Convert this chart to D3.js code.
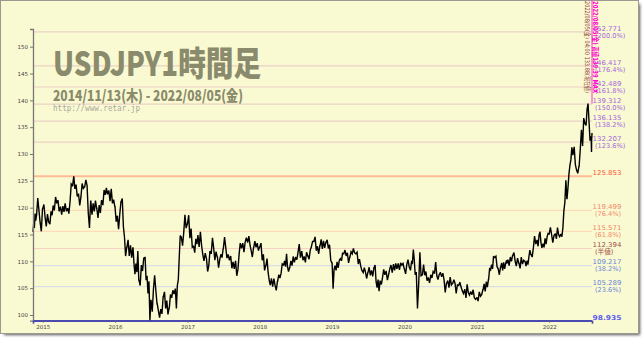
<!DOCTYPE html>
<html>
<head>
<meta charset="utf-8">
<script src="https://cdn.jsdelivr.net/npm/d3@7"></script>
<style>
  body { margin: 0; background: #fff; }
  svg { display: block; }
</style>
</head>
<body>
<div id="chart"></div>
<script>
// one row per month, Nov 2014 .. Aug 2022 (prices in the order they were touched)
var firstDay = "2014-11-13";
var lastDay = "2022-08-05";
var pricePath = [
    // 2014
    [115.5, 117.0, 116.2, 118.9, 117.6, 118.6],
    [118.6, 121.8, 119.5, 117.2, 115.6, 119.9],
    // 2015
    [119.8, 120.6, 118.2, 116.5, 118.8, 117.3],
    [117.3, 116.9, 119.3, 118.6, 120.4, 119.6],
    [119.6, 122.0, 120.8, 121.4, 119.3, 120.1],
    [120.1, 118.7, 120.3, 119.2, 120.8, 119.4],
    [119.4, 119.9, 118.9, 121.1, 124.4, 124.1],
    [124.1, 125.85, 123.5, 124.3, 122.1, 122.5],
    [122.5, 120.4, 122.0, 124.5, 123.6, 123.9],
    [123.9, 125.2, 124.1, 119.0, 116.2, 121.2],
    [121.2, 118.7, 120.8, 119.3, 121.3, 119.9],
    [119.9, 118.1, 120.5, 119.0, 121.4, 120.6],
    [120.6, 123.3, 122.4, 123.7, 122.5, 123.1],
    [123.1, 121.2, 123.5, 120.8, 121.5, 120.2],
    // 2016
    [120.2, 117.4, 118.5, 115.98, 118.8, 121.1],
    [121.1, 121.7, 116.5, 114.5, 110.98, 112.6],
    [112.6, 114.0, 111.0, 113.0, 110.7, 112.5],
    [112.5, 109.5, 107.6, 109.6, 108.0, 111.9, 106.5],
    [106.5, 105.5, 109.3, 108.2, 110.6, 110.7],
    [110.7, 106.5, 107.3, 104.0, 106.3, 99.0, 102.7],
    [102.7, 100.6, 104.8, 107.4, 104.6, 102.1],
    [102.1, 100.8, 99.5, 101.1, 100.2, 103.4],
    [103.4, 104.3, 101.2, 102.7, 100.1, 101.3],
    [101.3, 103.8, 103.2, 104.6, 103.9, 104.8],
    [104.8, 101.2, 105.5, 106.6, 110.8, 114.8, 114.5],
    [114.5, 112.9, 115.4, 118.66, 116.2, 117.0],
    // 2017
    [117.0, 118.6, 114.3, 116.1, 112.6, 112.8],
    [112.8, 111.6, 114.2, 113.2, 114.9, 112.8],
    [112.8, 115.5, 113.0, 111.3, 110.1, 111.4],
    [111.4, 110.5, 108.1, 109.2, 111.9, 111.5],
    [111.5, 114.37, 112.5, 110.2, 111.8, 110.8],
    [110.8, 108.8, 110.3, 111.3, 110.7, 112.4],
    [112.4, 114.5, 112.6, 110.6, 111.3, 110.3],
    [110.3, 111.0, 108.7, 109.9, 108.6, 110.0],
    [110.0, 107.3, 108.5, 111.3, 113.4, 112.5],
    [112.5, 113.4, 111.7, 113.6, 114.4, 113.6],
    [113.6, 114.7, 113.0, 112.0, 110.8, 112.5],
    [112.5, 113.75, 112.6, 113.4, 112.0, 112.7],
    // 2018
    [112.7, 113.4, 110.2, 111.3, 108.3, 109.2],
    [109.2, 110.5, 108.0, 106.5, 105.55, 106.7],
    [106.7, 105.3, 106.8, 105.5, 104.6, 106.3],
    [106.3, 107.5, 106.9, 107.8, 109.5, 109.3],
    [109.3, 110.1, 109.0, 111.4, 108.9, 108.1, 108.8],
    [108.8, 110.1, 109.2, 110.9, 109.8, 110.7],
    [110.7, 110.3, 111.7, 113.2, 110.7, 111.8],
    [111.8, 110.2, 110.9, 109.8, 111.7, 111.0],
    [111.0, 110.4, 112.1, 112.7, 113.7, 113.7],
    [113.7, 114.55, 112.0, 112.8, 111.4, 112.9],
    [112.9, 114.1, 112.3, 113.8, 112.5, 113.5],
    [113.5, 114.0, 112.4, 113.1, 110.2, 109.7],
    // 2019
    [109.7, 104.9, 108.5, 109.2, 108.3, 109.9, 108.9],
    [108.9, 110.2, 110.5, 110.1, 111.5, 111.4],
    [111.4, 112.1, 111.0, 111.6, 109.7, 110.8],
    [110.8, 111.8, 111.4, 112.4, 111.6, 111.4],
    [111.4, 111.7, 109.5, 110.4, 109.2, 108.3],
    [108.3, 107.9, 108.8, 108.0, 106.8, 107.9],
    [107.9, 108.9, 107.4, 108.3, 107.2, 108.8],
    [108.8, 109.3, 106.2, 105.1, 106.6, 104.45, 106.3],
    [106.3, 105.7, 107.0, 108.5, 107.5, 108.1],
    [108.1, 106.5, 107.5, 108.6, 109.3, 108.0],
    [108.0, 109.5, 108.3, 109.6, 108.6, 109.5],
    [109.5, 108.4, 109.7, 109.3, 109.6, 108.6],
    // 2020
    [108.6, 107.65, 109.4, 110.3, 109.0, 108.4],
    [108.4, 109.9, 109.7, 112.2, 110.3, 107.5, 107.9],
    [107.9, 101.2, 105.8, 111.7, 107.3, 107.5],
    [107.5, 109.4, 107.4, 108.1, 106.4, 106.9],
    [106.9, 105.99, 107.5, 106.9, 108.1, 107.8],
    [107.8, 109.85, 107.3, 106.6, 107.5, 107.9],
    [107.9, 107.1, 107.8, 106.6, 104.2, 105.9],
    [105.9, 106.4, 105.1, 107.05, 105.6, 105.9],
    [105.9, 106.55, 105.9, 104.0, 105.6, 105.5],
    [105.5, 106.1, 105.2, 104.5, 104.0, 104.7],
    [104.7, 103.2, 105.7, 104.2, 103.7, 104.3],
    [104.3, 103.8, 104.7, 103.2, 102.9, 103.2],
    // 2021
    [103.2, 102.6, 104.3, 103.5, 103.8, 104.7],
    [104.7, 105.8, 104.4, 106.2, 105.2, 106.6],
    [106.6, 108.6, 108.4, 109.4, 108.6, 110.97, 110.7],
    [110.7, 110.96, 109.0, 108.6, 107.5, 108.9],
    [108.9, 109.7, 108.3, 109.8, 108.6, 109.6, 110.2],
    [109.6, 110.3, 109.2, 110.8, 110.0, 111.1],
    [111.1, 111.65, 110.0, 109.1, 110.6, 109.7],
    [109.7, 108.7, 110.8, 109.5, 110.2, 110.0],
    [110.0, 109.1, 110.1, 109.4, 110.8, 112.1, 111.3],
    [111.3, 110.8, 112.5, 114.7, 113.2, 113.9],
    [113.9, 112.8, 114.9, 115.5, 113.5, 112.5, 113.2],
    [113.2, 112.6, 114.3, 113.2, 114.5, 115.2, 115.1],
    // 2022
    [115.1, 116.35, 115.0, 113.5, 114.8, 115.1],
    [115.1, 114.2, 116.3, 115.0, 114.6, 115.0],
    [115.0, 114.6, 116.2, 119.4, 121.0, 125.1, 121.7],
    [121.7, 123.8, 126.3, 127.9, 128.9, 131.25, 129.9],
    [129.9, 131.35, 128.0, 127.0, 126.4, 127.7],
    [127.7, 130.9, 134.5, 131.5, 136.7, 135.7],
    [135.7, 135.3, 138.3, 139.39, 136.0, 132.5, 133.2],
    [133.2, 131.6, 130.4, 133.3, 132.9, 133.9]
];

var fibValues = [152.771, 146.417, 142.489, 139.312, 136.135, 132.207, 125.853,
                 119.499, 115.571, 112.394, 109.217, 105.289, 98.935];
var fibLabels = ["(200.0%)", "(176.4%)", "(161.8%)", "(150.0%)", "(138.2%)", "(123.6%)", "",
                 "(76.4%)", "(61.8%)", "(半値)", "(38.2%)", "(23.6%)", ""];
var fibGroups = ["up", "up", "up", "up", "up", "up", "high",
                 "ret", "ret", "half", "low", "low", "bottom"];

var yTicks = [100, 105, 110, 115, 120, 125, 130, 135, 140, 145, 150];
var xTicks = ["2015", "2016", "2017", "2018", "2019", "2020", "2021", "2022"];

var titleText = "USDJPY1時間足";
var periodText = "2014/11/13(木) - 2022/08/05(金)";
var urlText = "http://www.retar.jp";

var lineColor = { up: "#ebd0c6", high: "#ffbb96", ret: "#fddcba", half: "#f6d0c4", low: "#dadde6", bottom: "#4a4ab0" };
var textColor = { up: "#a466dc", high: "#ff5533", ret: "#f3896a", half: "#a0504a", low: "#6a88d8", bottom: "#5a5af0" };

var W = 644, H = 339;
var plotL = 33, plotR = 592, plotT = 29, plotB = 320.7;

var parse = d3.timeParse("%Y-%m-%d");
var start = parse(firstDay), end = parse(lastDay);

// spread each month's prices across the days that month covers
var series = [];
pricePath.forEach(function (vals, i) {
    var m0 = d3.timeMonth.offset(d3.timeMonth.floor(start), i);
    var m1 = d3.timeMonth.offset(m0, 1);
    var a = i == 0 ? start : m0;
    var b = i == pricePath.length - 1 ? end : m1;
    vals.forEach(function (v, j) {
        var t = vals.length > 1 ? j / (vals.length - 1) : 0;
        series.push({ date: new Date(+a + (+b - +a) * t * 0.97), value: v });
    });
});

var x = d3.scaleTime().domain([start, end]).range([plotL, plotR]);
var y = d3.scaleLinear().domain([98.935, 153.3]).range([plotB, plotT]);

var svg = d3.select("#chart").append("svg")
    .attr("width", W).attr("height", H);

var defs = svg.append("defs");
defs.append("filter").attr("id", "blur")
    .append("feGaussianBlur").attr("stdDeviation", 1.6);

// frame + shadow
svg.append("rect").attr("x", 4).attr("y", 4).attr("width", 636).attr("height", 331)
    .attr("fill", "#555").attr("filter", "url(#blur)");
svg.append("rect").attr("x", 0.5).attr("y", 0.5).attr("width", 638).attr("height", 333)
    .attr("fill", "#fafad2").attr("stroke", "#9a9a90").attr("stroke-width", 1);

// fibonacci levels
svg.append("g").selectAll("line")
    .data(fibValues)
    .enter().append("line")
    .attr("x1", plotL).attr("x2", plotR)
    .attr("y1", function (d) { return y(d); })
    .attr("y2", function (d) { return y(d); })
    .attr("stroke", function (d, i) { return lineColor[fibGroups[i]]; })
    .attr("stroke-width", function (d, i) {
        var g = fibGroups[i];
        return g == "high" ? 2 : (g == "bottom" ? 1.6 : 1.2);
    });

// watermark title
var txt = svg.append("g").attr("fill", "#8a8a6c")
    .attr("font-family", "'Noto Sans CJK JP', 'DejaVu Sans', sans-serif")
    .attr("font-weight", "900");
txt.append("text").attr("x", 53).attr("y", 76).attr("font-size", 34)
    .attr("textLength", 208).attr("lengthAdjust", "spacingAndGlyphs")
    .text(titleText);
txt.append("text").attr("x", 53).attr("y", 100.5).attr("font-size", 14.5)
    .attr("textLength", 190).attr("lengthAdjust", "spacingAndGlyphs")
    .text(periodText);
svg.append("text").attr("x", 53).attr("y", 111).attr("font-size", 8)
    .attr("font-family", "'DejaVu Sans Mono', monospace").attr("fill", "#a8a8a0")
    .attr("textLength", 87).attr("lengthAdjust", "spacingAndGlyphs")
    .text(urlText);

// price line
var line = d3.line()
    .x(function (d) { return x(d.date); })
    .y(function (d) { return y(d.value); });
svg.append("path").datum(series)
    .attr("d", line)
    .attr("fill", "none")
    .attr("stroke", "#000")
    .attr("stroke-width", 1.4)
    .attr("stroke-linejoin", "miter")
    .attr("stroke-miterlimit", 3);

// axes
var yAxis = d3.axisLeft(y).tickValues(yTicks).tickSize(3).tickSizeOuter(3).tickPadding(2);
var gy = svg.append("g").attr("transform", "translate(" + plotL + ",0)").call(yAxis);
gy.select(".domain").attr("stroke", "#777").attr("stroke-width", 1.3);
gy.selectAll(".tick line").attr("stroke", "#777");
gy.selectAll("text").attr("font-size", 5.5).attr("font-family", "'DejaVu Sans', sans-serif").attr("fill", "#444");

var xAxis = d3.axisBottom(x)
    .tickValues(xTicks.map(function (s) { return parse(s + "-01-01"); }))
    .tickFormat(d3.timeFormat("%Y")).tickSize(2).tickSizeOuter(3).tickPadding(2);
var gx = svg.append("g").attr("transform", "translate(0," + plotB + ")").call(xAxis);
gx.select(".domain").attr("stroke", "#4a4ab0").attr("stroke-width", 1.6);
gx.selectAll(".tick line").attr("stroke", "#666");
gx.selectAll("text").attr("font-size", 5.5).attr("font-family", "'DejaVu Sans', sans-serif").attr("fill", "#444");

// level labels
var lab = svg.append("g").attr("font-family", "'DejaVu Sans', sans-serif").attr("font-size", 6.6);
fibValues.forEach(function (v, i) {
    var g = fibGroups[i];
    var yy = y(v);
    lab.append("text").attr("x", plotR + 0.5).attr("y", yy - 1.2)
        .attr("fill", textColor[g])
        .attr("font-weight", g == "bottom" ? "bold" : "normal")
        .attr("textLength", 29).attr("lengthAdjust", "spacingAndGlyphs")
        .text(v.toFixed(3));
    if (fibLabels[i] != "") {
        lab.append("text").attr("x", plotR + 3).attr("y", yy + 5.8)
            .attr("fill", textColor[g])
            .attr("font-family", "'DejaVu Sans', 'Noto Sans CJK JP', sans-serif")
            .text(fibLabels[i]);
    }
});

// current-price markers at top right
svg.append("line").attr("x1", plotR).attr("x2", plotR).attr("y1", 0).attr("y2", y(139.39))
    .attr("stroke", "#ff55cc").attr("stroke-width", 1.2);
svg.append("text").attr("transform", "translate(585,1) rotate(90)")
    .attr("font-size", 6.5).attr("font-family", "'DejaVu Sans', 'Noto Sans CJK JP', sans-serif")
    .attr("fill", "#8b3a3a").attr("textLength", 92).attr("lengthAdjust", "spacingAndGlyphs")
    .text("2022/08/05(金) 04:00 133.88(現在値)");
svg.append("text").attr("transform", "translate(592.5,1) rotate(90)")
    .attr("font-size", 7).attr("font-weight", "bold").attr("font-family", "'DejaVu Sans', 'Noto Sans CJK JP', sans-serif")
    .attr("fill", "#ff00cc").attr("textLength", 92).attr("lengthAdjust", "spacingAndGlyphs")
    .text("2022/08/05(金) 高値139.39 MAX");
</script>
</body>
</html>
